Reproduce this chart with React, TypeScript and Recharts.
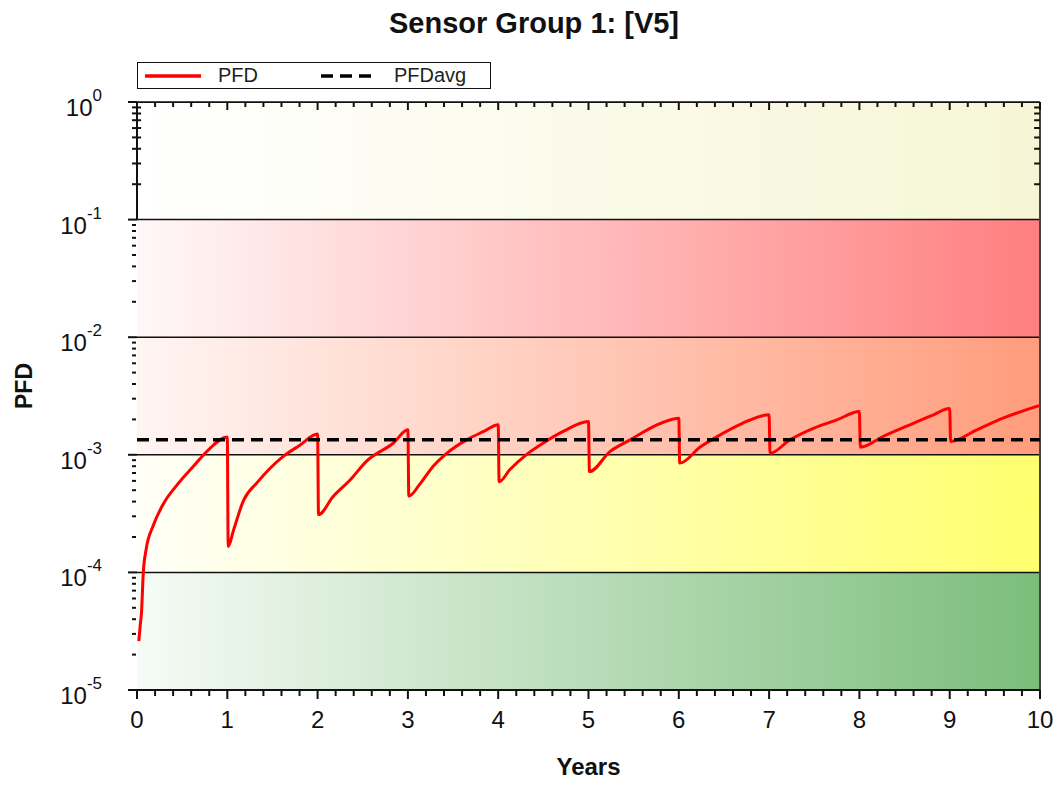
import React from 'react';
import { LineChart, Line, XAxis, YAxis, CartesianGrid, ReferenceLine, Legend } from 'recharts';

// PFD over time (years)
const years = [
  0.02, 0.035, 0.05, 0.07, 0.1, 0.18, 0.29, 0.44, 0.62, 0.8, 1.0,
  1.01, 1.07, 1.18, 1.33, 1.62, 1.8, 2.0,
  2.01, 2.17, 2.36, 2.54, 2.84, 3.0,
  3.01, 3.13, 3.28, 3.43, 3.65, 3.84, 4.0,
  4.01, 4.13, 4.31, 4.5, 4.72, 5.0,
  5.01, 5.24, 5.46, 5.72, 6.0,
  6.01, 6.24, 6.46, 6.71, 7.0,
  7.01, 7.23, 7.49, 7.75, 8.0,
  8.01, 8.26, 8.56, 8.8, 9.0,
  9.01, 9.3, 9.59, 10.0,
];
const pfd = [
  2.6e-5, 3.5e-5, 4.6e-5, 1.0e-4, 1.55e-4, 2.5e-4, 3.8e-4, 5.5e-4, 7.9e-4, 1.12e-3, 1.42e-3,
  1.66e-4, 2.3e-4, 4.1e-4, 5.8e-4, 9.7e-4, 1.2e-3, 1.5e-3,
  3.1e-4, 4.4e-4, 6.1e-4, 8.8e-4, 1.26e-3, 1.63e-3,
  4.45e-4, 5.6e-4, 8.0e-4, 1.03e-3, 1.34e-3, 1.58e-3, 1.8e-3,
  5.9e-4, 7.5e-4, 1.0e-3, 1.26e-3, 1.58e-3, 1.92e-3,
  7.2e-4, 1.07e-3, 1.34e-3, 1.74e-3, 2.05e-3,
  8.5e-4, 1.17e-3, 1.48e-3, 1.86e-3, 2.19e-3,
  1.03e-3, 1.34e-3, 1.68e-3, 1.98e-3, 2.33e-3,
  1.16e-3, 1.43e-3, 1.8e-3, 2.15e-3, 2.47e-3,
  1.3e-3, 1.63e-3, 2.05e-3, 2.63e-3,
];

const avgYears = [0, 10];
const avgPfd = [1.34e-3, 1.34e-3];

const yearTicks = [0, 1, 2, 3, 4, 5, 6, 7, 8, 9, 10];
const decadeTicks = [1e-5, 1e-4, 1e-3, 1e-2, 1e-1, 1];
// band fills, top band first (1..0.1) down to the green band (1e-4..1e-5)
const bandIds = ['gTop', 'gRed', 'gOrange', 'gYellow', 'gGreen'];

const bandColors: Record<string, [string, string]> = {
  gGreen: ['#f6fbf6', '#7bbd7b'],
  gYellow: ['#fffff8', '#ffff6e'],
  gOrange: ['#fff5f3', '#ff9c7c'],
  gRed: ['#fff8f8', '#ff7f7f'],
  gTop: ['#ffffff', '#f6f6d6'],
};

const minorX = Array.from({ length: 50 }, (_, i) => (i + 1) * 0.2).filter(v => Math.abs(v - Math.round(v)) > 1e-6);
const minorY: number[] = [];
for (let e = -5; e < 0; e++) for (let m = 2; m <= 9; m++) minorY.push(m * Math.pow(10, e));
const minorTop = minorY.filter(v => v > 0.1);

const pfdData = years.map((t, i) => ({ t, pfd: pfd[i] }));
const avgData = avgYears.map((t, i) => ({ t, avg: avgPfd[i] }));

// inner tick lengths, in data units of the axes (about 8px / 5px)
const TOP_MAJOR_END = 0.855;
const TOP_MINOR_END = 0.907;
const SIDE_TICK = 0.065;

// frame ticks that point into the plot, drawn as broken line segments
type Seg = { t: number; k: number | null };
const frameTicks: Seg[] = [];
const addSeg = (t1: number, k1: number, t2: number, k2: number) => {
  frameTicks.push({ t: t1, k: k1 }, { t: t2, k: k2 }, { t: t2, k: null });
};
addSeg(0, 1, 10, 1);
yearTicks.forEach(v => addSeg(v, 1, v, TOP_MAJOR_END));
minorX.forEach(v => addSeg(v, 1, v, TOP_MINOR_END));
minorTop.forEach(v => addSeg(10, v, 10 - SIDE_TICK, v));
minorTop.forEach(v => addSeg(0, v, SIDE_TICK * 0.7, v));

const FONT = '"Liberation Sans", Arial, sans-serif';
const tickStroke = { stroke: '#111', strokeWidth: 2 };
const noLabel = () => <g />;

const PowerTick = (props: any) => {
  const { x, y, payload } = props;
  const exp = Math.round(Math.log10(payload.value));
  return (
    <text x={x} y={y} textAnchor="end" fontFamily={FONT} fill="#111">
      <tspan fontSize={24} dy={14}>10</tspan>
      <tspan fontSize={17} dy={-15}>{exp}</tspan>
    </text>
  );
};

const LegendBox = (props: any) => {
  const items = (props.payload || []).filter((it: any) => it.value === 'PFD' || it.value === 'PFDavg');
  return (
    <div style={{ position: 'relative', width: 352, height: 25, border: '1.5px solid #111', background: '#fff', fontFamily: FONT, fontSize: 20, color: '#222' }}>
      {items.map((it: any, i: number) => (
        <div key={i} style={{ position: 'absolute', left: 7 + i * 176, top: 0, height: 25, display: 'flex', alignItems: 'center' }}>
          <svg width={56} height={8} style={{ display: 'block' }}>
            <line x1={0} y1={4} x2={56} y2={4} stroke={it.color} strokeWidth={3.5} strokeDasharray={it.payload?.strokeDasharray} />
          </svg>
          <span style={{ marginLeft: 17, lineHeight: '25px' }}>{it.value}</span>
        </div>
      ))}
    </div>
  );
};

export default function App() {
  return (
    <div style={{ position: 'absolute', left: 0, top: 0, width: 1057, height: 785, overflow: 'hidden', background: '#fff' }}>
      <LineChart width={1057} height={785} margin={{ top: 75, right: 17, bottom: 93, left: 135 }}>
        <defs>
          {bandIds.map(id => (
            <linearGradient key={id} id={id} x1="0" y1="0" x2="1" y2="0">
              <stop offset="0%" stopColor={bandColors[id][0]} />
              <stop offset="100%" stopColor={bandColors[id][1]} />
            </linearGradient>
          ))}
        </defs>
        <CartesianGrid xAxisId="main" yAxisId="main" vertical={false} stroke="#111" strokeWidth={1.5}
          horizontalFill={bandIds.map(id => `url(#${id})`)} fillOpacity={1} />
        <text x={534} y={33} textAnchor="middle" fontFamily={FONT} fontSize={29} fontWeight="bold" fill="#111">
          Sensor Group 1: [V5]
        </text>
        <text x={32} y={386} textAnchor="middle" transform="rotate(-90, 32, 386)" fontFamily={FONT} fontSize={23} fontWeight="bold" fill="#111">
          PFD
        </text>

        <XAxis xAxisId="minorBottom" type="number" dataKey="t" domain={[0, 10]} ticks={minorX} interval={0} height={1}
          tick={noLabel} tickSize={5} axisLine={false} tickLine={tickStroke} allowDataOverflow />
        <XAxis xAxisId="main" type="number" dataKey="t" domain={[0, 10]} ticks={yearTicks} interval={0} height={1}
          tickSize={9} tickMargin={12} axisLine={tickStroke} tickLine={tickStroke}
          tick={{ fontFamily: FONT, fontSize: 24, fill: '#111' }}
          label={{ value: 'Years', position: 'bottom', offset: 67, fontFamily: FONT, fontSize: 24, fontWeight: 'bold', fill: '#111' }} />

        <YAxis yAxisId="minor" scale="log" type="number" domain={[1e-5, 1]} ticks={minorY} interval={0} width={1}
          tick={noLabel} tickSize={4} axisLine={false} tickLine={tickStroke} allowDataOverflow />
        <YAxis yAxisId="main" scale="log" type="number" domain={[1e-5, 1]} ticks={decadeTicks} interval={0} width={1}
          tickSize={9} tickMargin={26} axisLine={false} tickLine={tickStroke} tick={<PowerTick />} allowDataOverflow />

        <ReferenceLine xAxisId="main" yAxisId="main" x={10} stroke="#444" strokeWidth={2} />
        <ReferenceLine xAxisId="main" yAxisId="main" segment={[{ x: 0, y: 0.1 }, { x: 0, y: 1 }]} stroke="#111" strokeWidth={2} />

        <Legend verticalAlign="top" align="left" content={<LegendBox />}
          wrapperStyle={{ top: 62, left: 137, width: 356 }} />

        <Line xAxisId="main" yAxisId="main" data={frameTicks} dataKey="k" name="frame" legendType="none" type="linear"
          stroke="#111" strokeWidth={2} dot={false} activeDot={false} connectNulls={false} isAnimationActive={false} />
        <Line xAxisId="main" yAxisId="main" data={pfdData} dataKey="pfd" name="PFD" type="monotone"
          stroke="#ff0000" strokeWidth={3} dot={false} activeDot={false} isAnimationActive={false} />
        <Line xAxisId="main" yAxisId="main" data={avgData} dataKey="avg" name="PFDavg" type="linear"
          stroke="#000000" strokeWidth={3.5} strokeDasharray="12 7" dot={false} activeDot={false} isAnimationActive={false} />
      </LineChart>
    </div>
  );
}
